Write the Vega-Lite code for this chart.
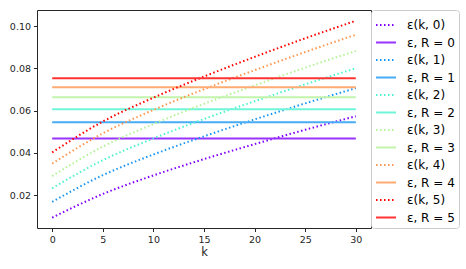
{
  "$schema": "https://vega.github.io/schema/vega-lite/v6.json",
  "width": 334,
  "height": 218,
  "autosize": "none",
  "padding": {"left": 37, "top": 10, "right": 95, "bottom": 41},
  "background": "white",
  "config": {
    "view": {"stroke": "#262626", "strokeWidth": 1},
    "font": "DejaVu Sans"
  },
  "data": {
    "values": [
      {"k": 0, "v": 0.0093, "s": "ε(k, 0)"}, {"k": 5, "v": 0.0205, "s": "ε(k, 0)"}, {"k": 10, "v": 0.0293, "s": "ε(k, 0)"}, {"k": 15, "v": 0.0370, "s": "ε(k, 0)"}, {"k": 20, "v": 0.0441, "s": "ε(k, 0)"}, {"k": 25, "v": 0.0509, "s": "ε(k, 0)"}, {"k": 30, "v": 0.0573, "s": "ε(k, 0)"},
      {"k": 0, "v": 0.0468, "s": "ε, R = 0"}, {"k": 30, "v": 0.0468, "s": "ε, R = 0"},
      {"k": 0, "v": 0.0168, "s": "ε(k, 1)"}, {"k": 5, "v": 0.0294, "s": "ε(k, 1)"}, {"k": 10, "v": 0.0392, "s": "ε(k, 1)"}, {"k": 15, "v": 0.0478, "s": "ε(k, 1)"}, {"k": 20, "v": 0.0558, "s": "ε(k, 1)"}, {"k": 25, "v": 0.0634, "s": "ε(k, 1)"}, {"k": 30, "v": 0.0706, "s": "ε(k, 1)"},
      {"k": 0, "v": 0.0545, "s": "ε, R = 1"}, {"k": 30, "v": 0.0545, "s": "ε, R = 1"},
      {"k": 0, "v": 0.0232, "s": "ε(k, 2)"}, {"k": 5, "v": 0.0365, "s": "ε(k, 2)"}, {"k": 10, "v": 0.0468, "s": "ε(k, 2)"}, {"k": 15, "v": 0.0560, "s": "ε(k, 2)"}, {"k": 20, "v": 0.0644, "s": "ε(k, 2)"}, {"k": 25, "v": 0.0724, "s": "ε(k, 2)"}, {"k": 30, "v": 0.0800, "s": "ε(k, 2)"},
      {"k": 0, "v": 0.0606, "s": "ε, R = 2"}, {"k": 30, "v": 0.0606, "s": "ε, R = 2"},
      {"k": 0, "v": 0.0290, "s": "ε(k, 3)"}, {"k": 5, "v": 0.0429, "s": "ε(k, 3)"}, {"k": 10, "v": 0.0536, "s": "ε(k, 3)"}, {"k": 15, "v": 0.0632, "s": "ε(k, 3)"}, {"k": 20, "v": 0.0719, "s": "ε(k, 3)"}, {"k": 25, "v": 0.0803, "s": "ε(k, 3)"}, {"k": 30, "v": 0.0882, "s": "ε(k, 3)"},
      {"k": 0, "v": 0.0663, "s": "ε, R = 3"}, {"k": 30, "v": 0.0663, "s": "ε, R = 3"},
      {"k": 0, "v": 0.0349, "s": "ε(k, 4)"}, {"k": 5, "v": 0.0492, "s": "ε(k, 4)"}, {"k": 10, "v": 0.0603, "s": "ε(k, 4)"}, {"k": 15, "v": 0.0701, "s": "ε(k, 4)"}, {"k": 20, "v": 0.0791, "s": "ε(k, 4)"}, {"k": 25, "v": 0.0877, "s": "ε(k, 4)"}, {"k": 30, "v": 0.0959, "s": "ε(k, 4)"},
      {"k": 0, "v": 0.0710, "s": "ε, R = 4"}, {"k": 30, "v": 0.0710, "s": "ε, R = 4"},
      {"k": 0, "v": 0.0402, "s": "ε(k, 5)"}, {"k": 5, "v": 0.0548, "s": "ε(k, 5)"}, {"k": 10, "v": 0.0661, "s": "ε(k, 5)"}, {"k": 15, "v": 0.0761, "s": "ε(k, 5)"}, {"k": 20, "v": 0.0854, "s": "ε(k, 5)"}, {"k": 25, "v": 0.0942, "s": "ε(k, 5)"}, {"k": 30, "v": 0.1025, "s": "ε(k, 5)"},
      {"k": 0, "v": 0.0753, "s": "ε, R = 5"}, {"k": 30, "v": 0.0753, "s": "ε, R = 5"}
    ]
  },
  "mark": {"type": "line", "interpolate": "monotone", "strokeWidth": 2, "clip": true},
  "encoding": {
    "x": {
      "field": "k", "type": "quantitative",
      "scale": {"domain": [-1.5, 31.5], "nice": false, "zero": false},
      "axis": {"values": [0, 5, 10, 15, 20, 25, 30], "title": "k", "grid": false, "domain": false,
        "tickSize": 3.5, "tickColor": "#262626", "labelFontSize": 9.5, "labelColor": "#262626", "labelPadding": 3,
        "titleFontSize": 11.5, "titleFontWeight": "normal", "titleColor": "#262626", "titlePadding": 2}
    },
    "y": {
      "field": "v", "type": "quantitative",
      "scale": {"domain": [0.0044, 0.1076], "nice": false, "zero": false},
      "axis": {"values": [0.02, 0.04, 0.06, 0.08, 0.1], "format": ".2f", "title": null, "grid": false, "domain": false,
        "tickSize": 3.5, "tickColor": "#262626", "labelFontSize": 9.5, "labelColor": "#262626", "labelPadding": 3}
    },
    "color": {
      "field": "s", "type": "nominal", "title": null,
      "scale": {
        "domain": ["ε(k, 0)", "ε, R = 0", "ε(k, 1)", "ε, R = 1", "ε(k, 2)", "ε, R = 2", "ε(k, 3)", "ε, R = 3", "ε(k, 4)", "ε, R = 4", "ε(k, 5)", "ε, R = 5"],
        "range": ["#8000ff", "#9933ff", "#1996f3", "#47abf5", "#4df3ce", "#71f5d8", "#b3f396", "#c2f5ab", "#ff964f", "#ffab72", "#ff0000", "#ff3333"]
      },
      "legend": {
        "orient": "none", "legendX": 334, "legendY": 0,
        "symbolType": "stroke", "symbolSize": 400, "symbolStrokeWidth": 2,
        "labelFontSize": 12, "labelColor": "#000", "labelOffset": 10,
        "rowPadding": 0.5, "padding": 4,
        "strokeColor": "#cccccc", "fillColor": "white", "cornerRadius": 3
      }
    },
    "strokeDash": {
      "field": "s", "type": "nominal", "title": null,
      "scale": {
        "domain": ["ε(k, 0)", "ε, R = 0", "ε(k, 1)", "ε, R = 1", "ε(k, 2)", "ε, R = 2", "ε(k, 3)", "ε, R = 3", "ε(k, 4)", "ε, R = 4", "ε(k, 5)", "ε, R = 5"],
        "range": [[1.5, 2.5], [1, 0], [1.5, 2.5], [1, 0], [1.5, 2.5], [1, 0], [1.5, 2.5], [1, 0], [1.5, 2.5], [1, 0], [1.5, 2.5], [1, 0]]
      }
    }
  }
}
